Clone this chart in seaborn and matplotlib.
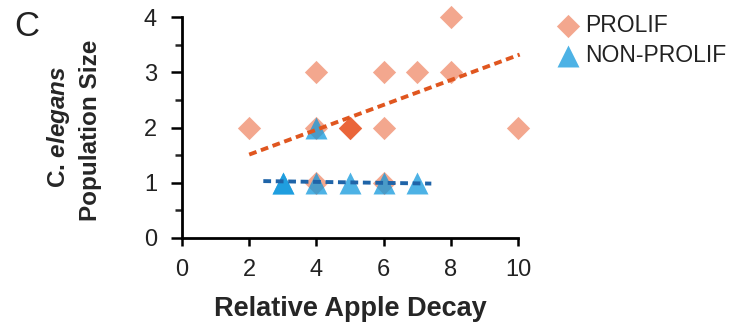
import matplotlib
matplotlib.use("Agg")
import matplotlib.pyplot as plt
import seaborn as sns
import pandas as pd
from matplotlib.ticker import MultipleLocator

# ---- data ----
prolif_x = [2, 4, 4, 4, 5, 5, 5, 6, 6, 6, 7, 8, 8, 10]
prolif_y = [2, 3, 2, 1, 2, 2, 2, 3, 2, 1, 3, 4, 3, 2]
nonprolif_x = [3, 3, 4, 4, 5, 6, 7]
nonprolif_y = [1, 1, 2, 1, 1, 1, 1]
prolif_trend_x = [2.0, 10.05]
prolif_trend_y = [1.51, 3.32]
nonprolif_trend_x = [2.42, 7.42]
nonprolif_trend_y = [1.03, 0.985]
x_ticks = [0, 2, 4, 6, 8, 10]
y_ticks = [0, 1, 2, 3, 4]
series_labels = ["PROLIF", "NON-PROLIF"]

sns.set_style("ticks")
plt.rcParams["font.family"] = ["Liberation Sans", "DejaVu Sans"]
plt.rcParams["mathtext.fontset"] = "custom"
plt.rcParams["mathtext.rm"] = "Liberation Sans:bold"
plt.rcParams["mathtext.bf"] = "Liberation Sans:bold"
plt.rcParams["mathtext.it"] = "Liberation Sans:italic:bold"

orange = "#E8501E"
blue = "#0F98DD"

df_p = pd.DataFrame({"x": prolif_x, "y": prolif_y})
df_n = pd.DataFrame({"x": nonprolif_x, "y": nonprolif_y})
df_pt = pd.DataFrame({"x": prolif_trend_x, "y": prolif_trend_y})
df_nt = pd.DataFrame({"x": nonprolif_trend_x, "y": nonprolif_trend_y})

fig = plt.figure(figsize=(7.39, 3.30), dpi=100)
ax = fig.add_axes([182 / 739, 1 - 238 / 330, (518 - 182) / 739, (238 - 17) / 330])

sns.scatterplot(data=df_p, x="x", y="y", ax=ax, marker="D", s=140, color=orange,
                alpha=0.5, linewidth=0, clip_on=False, zorder=2, label=series_labels[0])
sns.scatterplot(data=df_n, x="x", y="y", ax=ax, marker="^", s=250, color=blue,
                alpha=0.74, linewidth=0, clip_on=False, zorder=3, label=series_labels[1])
sns.lineplot(data=df_pt, x="x", y="y", ax=ax, color="#E0561F", lw=2.8,
             linestyle=(0, (2.0, 1.2)), zorder=4, clip_on=False, legend=False)
sns.lineplot(data=df_nt, x="x", y="y", ax=ax, color="#1F64A8", lw=2.8,
             linestyle=(0, (2.0, 1.2)), zorder=4, clip_on=False, legend=False)

ax.set_xlim(0, 10)
ax.set_ylim(0, 4)
ax.set_xticks(x_ticks)
ax.set_yticks(y_ticks)
ax.yaxis.set_minor_locator(MultipleLocator(0.5))
ax.tick_params(axis="both", which="major", labelsize=17, width=1.8,
               color="black", labelcolor="#222222", direction="out")
ax.tick_params(axis="x", which="major", length=6, pad=9)
ax.tick_params(axis="y", which="major", length=8, pad=10)
ax.tick_params(axis="y", which="minor", width=1.8, length=5)
sns.despine(ax=ax)
for sp in ("left", "bottom"):
    ax.spines[sp].set_linewidth(2)
    ax.spines[sp].set_color("black")

ax.set_xlabel("Relative Apple Decay", fontsize=19.5, fontweight="bold", labelpad=11)
ax.set_ylabel("")
fig.text(58 / 739, 1 - 127 / 330, r"C. $\mathit{elegans}$", rotation=90,
         fontsize=17.5, fontweight="bold", ha="center", va="center")
fig.text(91 / 739, 1 - 130 / 330, "Population Size", rotation=90,
         fontsize=17.5, fontweight="bold", ha="center", va="center")
fig.text(14 / 739, 1 - 26 / 330, "C", fontsize=25, ha="left", va="center", color="#222222")

leg = ax.legend(loc="upper left", bbox_to_anchor=(545 / 739, 1 - 5 / 330),
                bbox_transform=fig.transFigure, frameon=False, fontsize=16.5,
                handletextpad=0.15, labelspacing=0.3, borderaxespad=0, handlelength=1.2)
for t in leg.get_texts():
    t.set_color("#222222")

fig.savefig("out.png", dpi=100)
